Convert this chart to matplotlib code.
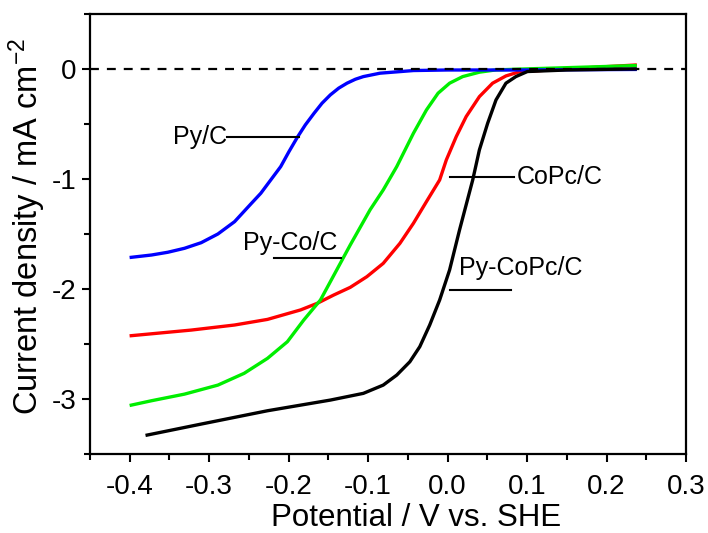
import matplotlib
matplotlib.use("Agg")
import matplotlib.pyplot as plt

plt.rcParams['font.family'] = ['Liberation Sans', 'DejaVu Sans']
plt.rcParams['mathtext.fontset'] = 'custom'
plt.rcParams['mathtext.rm'] = 'Liberation Sans'
plt.rcParams['mathtext.it'] = 'Liberation Sans'
plt.rcParams['axes.unicode_minus'] = False

# --- data (potential in V vs. SHE, current in mA cm-2) ---
pyc_x = [-0.398, -0.3725, -0.352, -0.331, -0.31, -0.289, -0.268, -0.2475, -0.235, -0.2225,
         -0.21, -0.1996, -0.189, -0.179, -0.168, -0.158, -0.1475, -0.137, -0.1266, -0.116,
         -0.106, -0.085, -0.064, -0.043, 0.0, 0.1, 0.236]
pyc_y = [-1.712, -1.691, -1.666, -1.630, -1.579, -1.50, -1.388, -1.227, -1.13, -1.009,
         -0.888, -0.752, -0.621, -0.509, -0.403, -0.312, -0.236, -0.175, -0.130, -0.094,
         -0.070, -0.039, -0.027, -0.015, -0.01, -0.01, -0.005]

pyco_x = [-0.398, -0.3725, -0.331, -0.289, -0.256, -0.2266, -0.2016, -0.181, -0.16, -0.1225,
          -0.0975, -0.081, -0.064, -0.043, -0.0266, -0.012, 0.0025, 0.019, 0.04, 0.061,
          0.1, 0.236]
pyco_y = [-3.055, -3.015, -2.955, -2.873, -2.766, -2.63, -2.479, -2.282, -2.10, -1.60,
          -1.28, -1.10, -0.888, -0.585, -0.373, -0.221, -0.13, -0.07, -0.03, -0.009,
          0.0, 0.03]

copc_x = [-0.398, -0.3225, -0.268, -0.2266, -0.185, -0.164, -0.1434, -0.1225, -0.1016, -0.081,
          -0.06, -0.043, -0.0266, -0.01, -0.0016, 0.0109, 0.0234, 0.04, 0.0566, 0.0734,
          0.09, 0.15, 0.236]
copc_y = [-2.424, -2.373, -2.327, -2.276, -2.19, -2.13, -2.055, -1.985, -1.888, -1.767,
          -1.585, -1.403, -1.206, -1.009, -0.827, -0.615, -0.433, -0.252, -0.13, -0.064,
          -0.027, 0.0, 0.035]

pycopc_x = [-0.378, -0.31, -0.2266, -0.1475, -0.106, -0.081, -0.064, -0.0475, -0.035, -0.0225,
            -0.01, 0.0025, 0.015, 0.0316, 0.04, 0.0504, 0.0609, 0.0734, 0.0859, 0.1004,
            0.15, 0.236]
pycopc_y = [-3.327, -3.227, -3.106, -3.009, -2.948, -2.873, -2.782, -2.661, -2.524, -2.327,
            -2.10, -1.827, -1.464, -1.009, -0.736, -0.494, -0.282, -0.13, -0.07, -0.024,
            -0.01, 0.0]

x_ticks = [-0.4, -0.3, -0.2, -0.1, 0.0, 0.1, 0.2, 0.3]
y_ticks = [0, -1, -2, -3]

fig = plt.figure(figsize=(7.08, 5.33), dpi=100)
ax = fig.add_axes([0.127, 0.148, 0.842, 0.826])

lw = 2.4
ax.plot(copc_x, copc_y, color='#ff0000', lw=lw)
ax.plot(pyco_x, pyco_y, color='#00ee00', lw=lw)
ax.plot(pyc_x, pyc_y, color='#0000ff', lw=lw)
ax.plot(pycopc_x, pycopc_y, color='black', lw=lw)

# zero-current reference line
ax.axhline(0, color='black', lw=1.6, ls=(0, (4, 3.6)), zorder=5)

# labels with leader lines
fs = 18
ax.text(-0.2775, -0.62, 'Py/C', fontsize=fs, ha='right', va='center')
ax.plot([-0.2775, -0.1875], [-0.62, -0.62], color='black', lw=1.5)

ax.text(-0.2575, -1.58, 'Py-Co/C', fontsize=fs, ha='left', va='center')
ax.plot([-0.219, -0.134], [-1.72, -1.72], color='black', lw=1.5)

ax.text(0.0875, -0.98, 'CoPc/C', fontsize=fs, ha='left', va='center')
ax.plot([0.0025, 0.0838], [-0.98, -0.98], color='black', lw=1.5)

ax.text(0.01375, -1.81, 'Py-CoPc/C', fontsize=fs, ha='left', va='center')
ax.plot([0.0025, 0.08], [-2.01, -2.01], color='black', lw=1.5)

ax.set_xlim(-0.45, 0.3)
ax.set_ylim(-3.5, 0.5)
ax.set_xticks(x_ticks)
ax.set_xticklabels(['%.1f' % v for v in x_ticks])
ax.set_xticks([-0.45, -0.35, -0.25, -0.15, -0.05, 0.05, 0.15, 0.25], minor=True)
ax.set_yticks(y_ticks)
ax.set_yticklabels(['%d' % v for v in y_ticks])
ax.set_yticks([0.5, -0.5, -1.5, -2.5, -3.5], minor=True)

ax.tick_params(which='both', direction='out', width=1.5, labelsize=20, top=False, right=False)
ax.tick_params(which='major', length=6)
ax.tick_params(which='minor', length=4)
ax.tick_params(axis='x', which='major', pad=8)
for s in ax.spines.values():
    s.set_linewidth(1.6)

ax.set_xlabel('Potential / V vs. SHE', fontsize=22.5)
ax.xaxis.set_label_coords(0.547, -0.112)
ax.set_ylabel('Current density / mA cm$^{-2}$', fontsize=23.5)
ax.yaxis.set_label_coords(-0.07, 0.516)

fig.savefig('out.png', dpi=100)
